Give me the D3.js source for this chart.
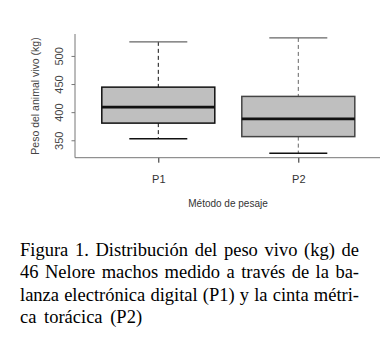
<!DOCTYPE html>
<html>
<head>
<meta charset="utf-8">
<script src="https://cdn.jsdelivr.net/npm/d3@7"></script>
<style>
html,body{margin:0;padding:0;background:#fff;}
svg{display:block;}
</style>
</head>
<body>
<script>
// Data
const categories = ["P1", "P2"];
const upperWhisker = [525, 532];
const q3 = [444.5, 428];
const median = [409, 388];
const q1 = [380.5, 356.5];
const lowerWhisker = [352.5, 327];
const yTicks = [350, 400, 450, 500];
const yTitle = "Peso del animal vivo (kg)";
const xTitle = "Método de pesaje";
const captionLines = [
  "Figura 1. Distribución del peso vivo (kg) de",
  "46 Nelore machos medido a través de la ba-",
  "lanza electrónica digital (P1) y la cinta métri-",
  "ca torácica (P2)"
];

const W = 380, H = 340;
const svg = d3.select("body").append("svg").attr("width", W).attr("height", H);

const y = d3.scaleLinear().domain([319, 539]).range([157.7, 34]);
const x = d3.scalePoint().domain(categories).range([158.3, 298.3]);
const boxHalf = 56.5, capHalf = 29;

const data = categories.map((c, i) => ({
  c, hi: upperWhisker[i], q3: q3[i], med: median[i], q1: q1[i], lo: lowerWhisker[i]
}));
const strokeCol = ["#111", "#444"];
const whiskCol = ["#111", "#666"];

const g = svg.append("g");
const box = g.selectAll("g.box").data(data).join("g").attr("class", "box");

// whiskers (dashed)
box.append("line")
  .attr("x1", d => x(d.c)).attr("x2", d => x(d.c))
  .attr("y1", d => y(d.hi)).attr("y2", d => y(d.q3))
  .attr("stroke", (d, i) => whiskCol[i]).attr("stroke-width", 1)
  .attr("stroke-dasharray", "4,3");
box.append("line")
  .attr("x1", d => x(d.c)).attr("x2", d => x(d.c))
  .attr("y1", d => y(d.q1)).attr("y2", d => y(d.lo))
  .attr("stroke", (d, i) => whiskCol[i]).attr("stroke-width", 1)
  .attr("stroke-dasharray", "4,3");
// caps
box.append("line")
  .attr("x1", d => x(d.c) - capHalf).attr("x2", d => x(d.c) + capHalf)
  .attr("y1", d => y(d.hi)).attr("y2", d => y(d.hi))
  .attr("stroke", "#666").attr("stroke-width", 1.2);
box.append("line")
  .attr("x1", d => x(d.c) - capHalf).attr("x2", d => x(d.c) + capHalf)
  .attr("y1", d => y(d.lo)).attr("y2", d => y(d.lo))
  .attr("stroke", "#111").attr("stroke-width", 1.5);
// boxes
box.append("rect")
  .attr("x", d => x(d.c) - boxHalf).attr("width", boxHalf * 2)
  .attr("y", d => y(d.q3)).attr("height", d => y(d.q1) - y(d.q3))
  .attr("fill", "#bfbfbf")
  .attr("stroke", (d, i) => strokeCol[i]).attr("stroke-width", 1.5);
// medians
box.append("line")
  .attr("x1", d => x(d.c) - boxHalf).attr("x2", d => x(d.c) + boxHalf)
  .attr("y1", d => y(d.med)).attr("y2", d => y(d.med))
  .attr("stroke", "#111").attr("stroke-width", 2.6);

// axes
const axisCol = "#777";
const yAxis = svg.append("g").attr("transform", "translate(75,0)")
  .call(d3.axisLeft(y).tickValues(yTicks).tickSize(3.5).tickFormat(d3.format("d")));
yAxis.select(".domain").remove();
yAxis.selectAll(".tick line").attr("stroke", axisCol);
yAxis.selectAll(".tick text")
  .attr("transform", "rotate(-90)")
  .attr("x", 0).attr("y", -15.5).attr("dy", "0.35em")
  .attr("text-anchor", "middle")
  .attr("font-family", "Liberation Sans, Arial, sans-serif")
  .attr("font-size", 11).attr("fill", "#444");
svg.append("line").attr("x1", 75).attr("x2", 75).attr("y1", 34).attr("y2", 157.7)
  .attr("stroke", axisCol).attr("stroke-width", 1);

const xAxis = svg.append("g").attr("transform", "translate(0,157.7)")
  .call(d3.axisBottom(x).tickSize(5));
xAxis.select(".domain").remove();
xAxis.selectAll(".tick line").attr("stroke", "#222");
xAxis.selectAll(".tick text")
  .attr("y", 21).attr("dy", "0.35em")
  .attr("font-family", "Liberation Sans, Arial, sans-serif")
  .attr("font-size", 11).attr("fill", "#333");
svg.append("line").attr("x1", 75).attr("x2", 380).attr("y1", 157.7).attr("y2", 157.7)
  .attr("stroke", axisCol).attr("stroke-width", 1);

// titles
svg.append("text")
  .attr("transform", "translate(35.7,96) rotate(-90)")
  .attr("text-anchor", "middle").attr("dy", "0.35em")
  .attr("font-family", "Liberation Sans, Arial, sans-serif")
  .attr("font-size", 10.5).attr("fill", "#444")
  .text(yTitle);
svg.append("text")
  .attr("x", 228).attr("y", 203).attr("dy", "0.35em")
  .attr("text-anchor", "middle")
  .attr("font-family", "Liberation Sans, Arial, sans-serif")
  .attr("font-size", 10).attr("fill", "#333")
  .text(xTitle);

// caption (justified via word-spacing)
const baselines = [256, 278.3, 300.7, 323];
const lineWidth = 339;
svg.selectAll("text.cap").data(captionLines).join("text")
  .attr("class", "cap")
  .attr("x", 20).attr("y", (d, i) => baselines[i])
  .attr("font-family", "Liberation Serif, 'Times New Roman', serif")
  .attr("font-size", 18.5).attr("fill", "#000")
  .text(d => d)
  .each(function(d, i) {
    const w = this.getComputedTextLength();
    const spaces = (d.match(/ /g) || []).length;
    const extra = i < 3 ? (lineWidth - w) / spaces : 3;
    d3.select(this).style("word-spacing", extra + "px");
  });
</script>
</body>
</html>
